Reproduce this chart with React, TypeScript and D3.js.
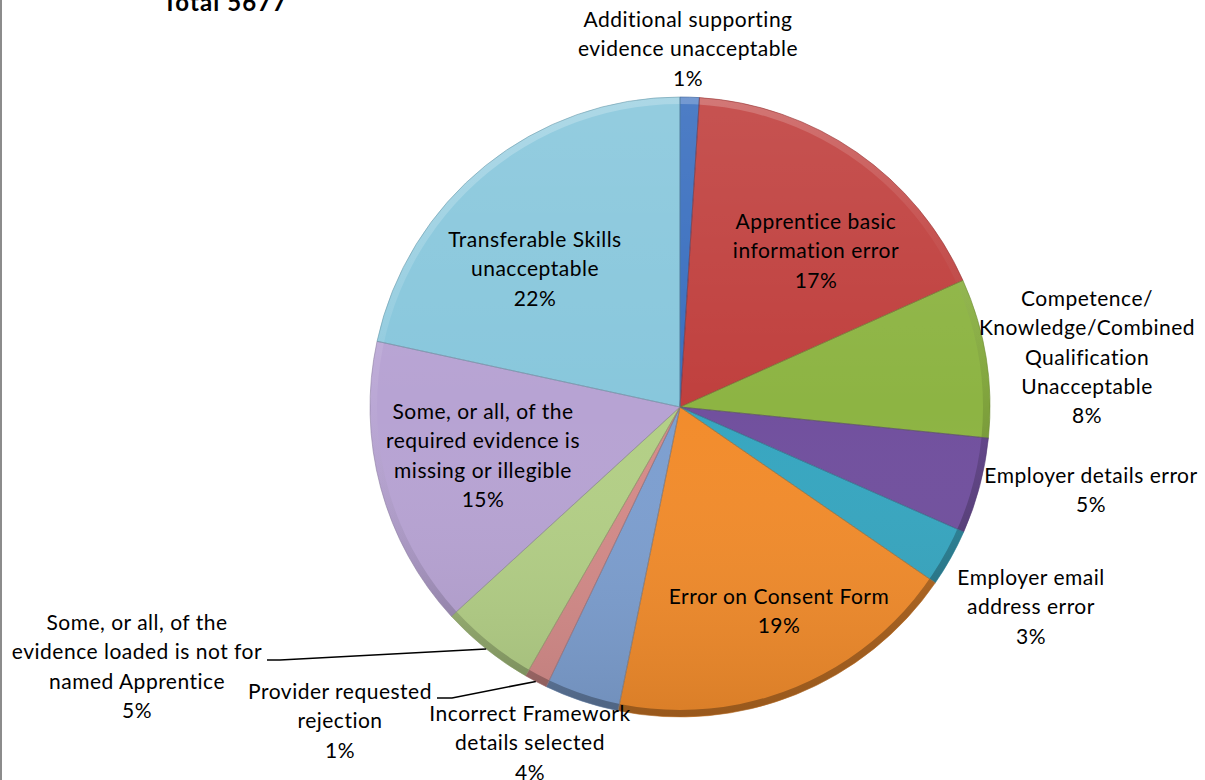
import React from "react";
import * as d3 from "d3";

// ---- data ----
const title = "Total 5677";
const categories = [
  "Additional supporting evidence unacceptable",
  "Apprentice basic information error",
  "Competence/Knowledge/Combined Qualification Unacceptable",
  "Employer details error",
  "Employer email address error",
  "Error on Consent Form",
  "Incorrect Framework details selected",
  "Provider requested rejection",
  "Some, or all, of the evidence loaded is not for named Apprentice",
  "Some, or all, of the required evidence is missing or illegible",
  "Transferable Skills unacceptable",
];
// wrapped label lines as they appear in the chart
const labelLines = [
  ["Additional supporting", "evidence unacceptable"],
  ["Apprentice basic", "information error"],
  ["Competence/", "Knowledge/Combined", "Qualification", "Unacceptable"],
  ["Employer details error"],
  ["Employer email", "address error"],
  ["Error on Consent Form"],
  ["Incorrect Framework", "details selected"],
  ["Provider requested", "rejection"],
  ["Some, or all, of the", "evidence loaded is not for", "named Apprentice"],
  ["Some, or all, of the", "required evidence is", "missing or illegible"],
  ["Transferable Skills", "unacceptable"],
];
const values = [1.0, 17.3, 8.3, 5.0, 3.0, 18.6, 3.9, 1.2, 4.9, 15.2, 21.6];
const colors = [
  "#3a6fbf", "#c0403e", "#8db443", "#71509e", "#37a6c0", "#f28c2c",
  "#7d9fd0", "#d48b89", "#b3cf86", "#b7a3d3", "#88c7dc",
];

// ---- layout (label block anchors: center x, first baseline) ----
const labelAnchors: [number, number][] = [
  [688, 27], [816, 229], [1087, 306], [1091, 483], [1031, 585], [779, 604],
  [530, 721], [340, 699], [137, 630], [483, 419], [535, 247],
];
// leader line start points (label side) for labels placed away from slices
const leaderStarts: Record<number, [number, number][]> = {
  7: [[437, 698], [452, 698]],
  8: [[267, 660], [280, 660]],
};

const W = 1205, H = 780;
const cx = 680, cy = 407, R = 310;
const LINE = 29.3;

export default function App() {
  const pie = d3.pie<number>().sort(null).value((d) => d);
  const arcs = pie(values);
  const arc = d3.arc<d3.PieArcDatum<number>>().innerRadius(0).outerRadius(R);
  const rim = d3.arc<any>().innerRadius(R - 7).outerRadius(R);
  const ringPath = rim({ startAngle: 0, endAngle: Math.PI * 2 }) as string;

  const edgePoint = (a: d3.PieArcDatum<number>): [number, number] => {
    const m = (a.startAngle + a.endAngle) / 2;
    return [cx + R * Math.sin(m), cy - R * Math.cos(m)];
  };

  return (
    <svg width={W} height={H} style={{ position: "absolute", left: 0, top: 0, background: "#fff" }}
      fontFamily="Lato, 'Open Sans', sans-serif">
      <defs>
        <linearGradient id="rimGrad" x1="0" y1="0" x2="0.3" y2="1">
          <stop offset="0%" stopColor="#ffffff" stopOpacity={0.3} />
          <stop offset="45%" stopColor="#ffffff" stopOpacity={0.05} />
          <stop offset="70%" stopColor="#000000" stopOpacity={0.08} />
          <stop offset="100%" stopColor="#000000" stopOpacity={0.3} />
        </linearGradient>
        <linearGradient id="bodyGrad" x1="0" y1="0" x2="0" y2="1">
          <stop offset="0%" stopColor="#fff" stopOpacity={0.1} />
          <stop offset="50%" stopColor="#fff" stopOpacity={0.0} />
          <stop offset="100%" stopColor="#000" stopOpacity={0.1} />
        </linearGradient>
      </defs>
      <rect x={0} y={0} width={W} height={H} fill="#fff" />
      <line x1={1} y1={0} x2={1} y2={H} stroke="#8c8c8c" strokeWidth={2} />
      <text x={225} y={11} textAnchor="middle" fontWeight="bold" fontSize={24} letterSpacing={1.1} fill="#000">{title}</text>

      <g transform={`translate(${cx},${cy})`}>
        {arcs.map((a, i) => (
          <path key={categories[i]} d={arc(a) as string} fill={colors[i]} />
        ))}
        <circle r={R} fill="url(#bodyGrad)" />
        <path d={ringPath} fill="url(#rimGrad)" />
        {arcs.map((a, i) => (
          <path key={"e" + i} d={arc(a) as string} fill="none"
            stroke={d3.color(colors[i])!.darker(0.8).toString()} strokeOpacity={0.55} strokeWidth={1} />
        ))}
      </g>

      {arcs.map((a, i) => {
        const st = leaderStarts[i];
        if (!st) return null;
        const pts = [...st, edgePoint(a)];
        return <path key={"l" + i} d={d3.line()(pts) as string} fill="none" stroke="#000" strokeWidth={1.6} />;
      })}

      {arcs.map((a, i) => {
        const [lx, ly] = labelAnchors[i];
        const lines = [...labelLines[i], `${Math.round(values[i])}%`];
        return (
          <text key={"t" + i} x={lx} y={ly} textAnchor="middle" fontSize={21} letterSpacing={0.5} fill="#000">
            {lines.map((s, j) => (
              <tspan key={j} x={lx} y={ly + j * LINE}>{s}</tspan>
            ))}
          </text>
        );
      })}
    </svg>
  );
}
